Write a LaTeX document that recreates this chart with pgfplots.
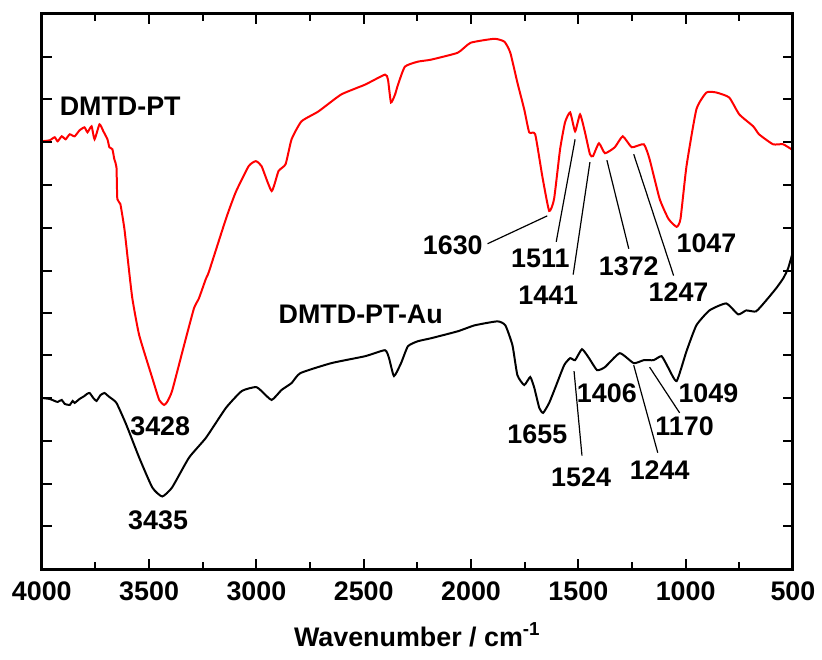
\documentclass[border=0pt]{standalone}
\usepackage{fontspec}
\setmainfont{Liberation Sans}
\usepackage{pgfplots}
\pgfplotsset{compat=1.18}

% y values are read off the picture as -pixel row (transmittance, arbitrary units)
\pgfplotsset{
  frame/.style={
    scale only axis,
    width=377.5pt, height=279pt,
    x dir=reverse,
    xmin=500, xmax=4000,
    ymin=-572, ymax=-14,
  }
}
\begin{document}
\begin{tikzpicture}
% data layer
\begin{axis}[frame, hide axis, clip=false,
  font=\fontsize{13.5}{15}\selectfont\bfseries]
% DMTD-PT
\addplot[red, line width=1pt, smooth, tension=0.3] coordinates {
(4000,-142) (3963,-141) (3940,-138) (3926,-142) (3907,-137) (3889,-140)
(3870,-135) (3847,-137) (3824,-131) (3801,-128) (3787,-133) (3768,-127)
(3754,-140) (3731,-125) (3713,-132) (3694,-140) (3685,-148) (3671,-150)
(3662,-160) (3652,-168) (3648,-200) (3634,-205) (3615,-230) (3597,-265)
(3578,-300) (3546,-337) (3485,-380) (3453,-402) (3430,-407) (3416,-404)
(3393,-393) (3337,-347) (3291,-310) (3268,-300) (3235,-280) (3221,-273)
(3142,-220) (3096,-193) (3036,-167) (3003,-162) (2976,-167) (2929,-192)
(2897,-172) (2864,-165) (2836,-140) (2790,-122) (2711,-112) (2605,-95)
(2493,-85) (2401,-75)
(2387,-80) (2373,-103) (2354,-95) (2340,-85) (2308,-67) (2248,-62)
(2187,-60) (2062,-53) (2002,-43) (1891,-39) (1844,-42) (1817,-53)
(1784,-83) (1752,-110) (1729,-133) (1701,-135) (1668,-177) (1636,-212)
(1613,-200) (1585,-150) (1562,-123) (1538,-113) (1515,-132) (1492,-115)
(1469,-133) (1446,-155) (1432,-157) (1404,-144) (1376,-154) (1330,-148)
(1293,-137) (1251,-148) (1195,-145) (1168,-160) (1121,-200) (1080,-220)
(1042,-228) (1024,-220) (996,-167) (950,-110) (903,-93) (857,-93)
(797,-98) (750,-115) (685,-127) (658,-135) (593,-145) (546,-145) (500,-151)
};
% DMTD-PT-Au
\addplot[black, line width=1pt, smooth, tension=0.3] coordinates {
(4000,-400) (3963,-401) (3940,-403) (3926,-404) (3907,-402) (3893,-406)
(3870,-407) (3856,-403) (3847,-405) (3824,-401) (3801,-398) (3790,-396)
(3777,-395) (3760,-400) (3745,-403) (3726,-397) (3708,-395) (3696,-397)
(3685,-399) (3652,-405) (3606,-427) (3546,-460) (3485,-490) (3439,-499)
(3393,-490) (3314,-460) (3235,-440) (3142,-410) (3068,-393) (3003,-389)
(2976,-393) (2929,-402) (2883,-392) (2836,-385) (2795,-375) (2651,-365)
(2493,-358) (2401,-352) (2382,-360) (2359,-378) (2326,-365) (2294,-348)
(2248,-343) (2187,-340) (2062,-333) (1983,-327) (1877,-323) (1840,-327)
(1807,-347) (1784,-377) (1752,-387) (1724,-379) (1705,-390) (1682,-410)
(1664,-415) (1636,-405) (1608,-390) (1566,-367) (1538,-360) (1515,-362)
(1483,-351) (1450,-360) (1413,-372) (1376,-369) (1307,-355) (1242,-365)
(1195,-362) (1149,-362) (1112,-358) (1080,-370) (1042,-383) (996,-353)
(950,-327) (889,-312) (811,-305) (755,-316) (718,-312) (672,-313)
(625,-302) (579,-290) (546,-280) (523,-270) (500,-253)
};
% annotations
\node[anchor=west] at (axis cs:3949,-107) {DMTD-PT};
\node[anchor=west] at (axis cs:2929,-316) {DMTD-PT-Au};
\node at (axis cs:3448,-428) {3428};
\node at (axis cs:3458,-523) {3435};
\draw[line width=0.6pt] (axis cs:1645,-217) -- (axis cs:1923,-245);
\node at (axis cs:2085,-247) {1630};
\draw[line width=0.6pt] (axis cs:1515,-140) -- (axis cs:1603,-243);
\node at (axis cs:1677,-260) {1511};
\draw[line width=0.6pt] (axis cs:1446,-163) -- (axis cs:1524,-276);
\node at (axis cs:1640,-297) {1441};
\draw[line width=0.6pt] (axis cs:1367,-161) -- (axis cs:1265,-250);
\node at (axis cs:1265,-268) {1372};
\draw[line width=0.6pt] (axis cs:1242,-155) -- (axis cs:1056,-277);
\node at (axis cs:1033,-294) {1247};
\node at (axis cs:903,-245) {1047};
\node at (axis cs:1691,-436) {1655};
\draw[line width=0.6pt] (axis cs:1520,-373) -- (axis cs:1483,-458);
\node at (axis cs:1487,-480) {1524};
\node at (axis cs:1367,-395) {1406};
\draw[line width=0.6pt] (axis cs:1242,-367) -- (axis cs:1130,-455);
\node at (axis cs:1121,-473) {1244};
\draw[line width=0.6pt] (axis cs:1168,-369) -- (axis cs:1028,-415);
\node at (axis cs:1005,-428) {1170};
\node at (axis cs:894,-395) {1049};
\end{axis}
% frame and ticks
\begin{axis}[frame,
  xtick={500,1000,...,4000},
  minor xtick={750,1250,...,3750},
  ytick={-57,-100,-143,-186,-229,-272,-315,-357,-400,-443,-486,-529},
  yticklabels={},
  major tick length=5pt,
  minor tick length=3.5pt,
  every tick/.style={line width=1pt, black},
  axis line style={line width=1.5pt},
  tick align=inside,
  tick pos=both,
  font=\fontsize{13.5}{15}\selectfont\bfseries,
  xticklabel style={font=\fontsize{13.5}{15}\selectfont\bfseries, yshift=-3pt},
  /pgf/number format/assume math mode=true,
  /pgf/number format/1000 sep={},
  xlabel={Wavenumber / cm\textsuperscript{-1}},
  xlabel style={yshift=-4pt},
]
\end{axis}
\path (current axis.south west) ++(-21pt,-45.5pt) coordinate (bl);
\path (current axis.north east) ++(12.5pt,7pt) coordinate (tr);
\path (bl) rectangle (tr);
\end{tikzpicture}
\end{document}
